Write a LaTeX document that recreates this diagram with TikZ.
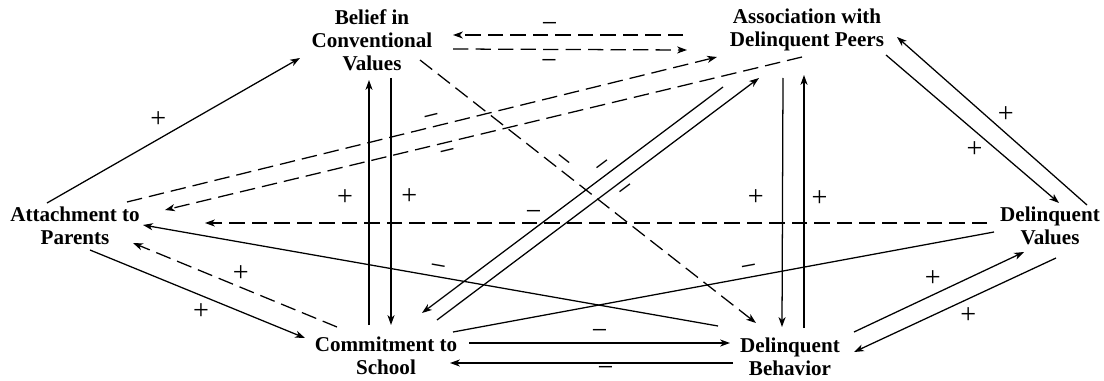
\documentclass[tikz,border=0pt]{standalone}
\usepackage{fontspec}
\setmainfont{Liberation Serif}
\usetikzlibrary{arrows.meta,calc}

\begin{document}
\begin{tikzpicture}[x=0.025cm, y=-0.025cm,
  var/.style={align=center, inner sep=0pt, font=\fontsize{15}{16.3}\selectfont\bfseries},
  arr/.style={-{Stealth[length=7pt,width=5pt,inset=2pt]}, line width=0.9pt},
  dsh/.style={arr, dash pattern=on 11pt off 5pt},
  sgn/.style={font=\fontsize{20}{20}\selectfont, inner sep=1pt}]
  \useasboundingbox (0,0) rectangle (1104,381);

  % variables
  \node[var] (Bel)  at (372,40)  {Belief in\\Conventional\\Values};
  \node[var] (Peer) at (807,30)  {Association with\\Delinquent Peers};
  \node[var] (Att)  at (75,226)  {Attachment to\\Parents};
  \node[var] (Val)  at (1050,226) {Delinquent\\Values};
  \node[var] (Com)  at (386,356) {Commitment to\\School};
  \node[var] (Beh)  at (790,357) {Delinquent\\Behavior};

  % upper part
  \draw[arr] ($(Att)+(-28,-23)$) -- node[sgn, pos=.49, above left=2pt] {+} ($(Bel)+(-72,18)$);
  \draw[dsh] ($(Peer)+(-124,5)$) -- node[sgn, pos=.58, above] {−} ($(Bel)+(81,-5)$);
  \draw[dsh] ($(Bel)+(81,9)$) -- node[sgn, pos=.41, below=6pt] {−} ($(Peer)+(-120,20)$);
  \draw[dsh] ($(Att)+(52,-24)$) -- node[sgn, pos=.52, above, sloped] {−} ($(Peer)+(-90,27)$);
  \draw[dsh] ($(Peer)+(-5,27)$) -- node[sgn, pos=.56, below=4pt, sloped] {−} ($(Att)+(90,-16)$);
  \draw[dsh] ($(Bel)+(48,20)$) -- node[sgn, pos=.41, above, sloped] {−} ($(Beh)+(-34,-34)$);
  \draw[arr] ($(Peer)+(-84,57)$) -- node[sgn, pos=.38, above, sloped] {−} ($(Com)+(36,-43)$);
  \draw[arr] ($(Com)+(51,-36)$) -- node[sgn, pos=.57, below=4pt, sloped] {−} ($(Peer)+(-48,48)$);

  % vertical pairs
  \draw[arr] ($(Com)+(-17,-31)$) -- node[sgn, pos=.52, left=10pt] {+} ($(Bel)+(-3,40)$);
  \draw[arr] ($(Bel)+(19,38)$) -- node[sgn, pos=.48, right=6pt] {+} ($(Com)+(5,-31)$);
  \draw[arr] ($(Peer)+(-24,48)$) -- node[sgn, pos=.48, left=12pt] {+} ($(Beh)+(-8,-30)$);
  \draw[arr] ($(Beh)+(14,-29)$) -- node[sgn, pos=.51, right=4pt] {+} ($(Peer)+(-3,45)$);

  % right part
  \draw[arr] ($(Peer)+(79,25)$) -- node[sgn, pos=.57, below left=0pt] {+} ($(Val)+(9,-23)$);
  \draw[arr] ($(Val)+(37,-21)$) -- node[sgn, pos=.48, above right=0pt] {+} ($(Peer)+(90,7)$);
  \draw[arr] ($(Beh)+(64,-25)$) -- node[sgn, pos=.53, above left=1pt] {+} ($(Val)+(-26,26)$);
  \draw[arr] ($(Val)+(6,32)$) -- node[sgn, pos=.49, below right=1pt] {+} ($(Beh)+(64,-5)$);

  % middle and lower part
  \draw[dsh] ($(Val)+(-63,-3)$) -- node[sgn, pos=.58, above] {−} ($(Att)+(130,-3)$);
  \draw[arr] ($(Beh)+(-72,-31)$) -- node[sgn, pos=.49, above, sloped] {−} ($(Att)+(68,-1)$);
  \draw[line width=0.9pt] ($(Val)+(-56,6)$) -- node[sgn, pos=.45, above, sloped] {−} ($(Com)+(67,-24)$);
  \draw[arr] ($(Com)+(83,-13)$) -- node[sgn, pos=.5, above=1pt] {−} ($(Beh)+(-60,-14)$);
  \draw[arr] ($(Beh)+(-57,6)$) -- node[sgn, pos=.45, below=1pt] {−} ($(Com)+(64,7)$);
  \draw[arr] ($(Att)+(15,24)$) -- node[sgn, pos=.57, below left=1pt] {+} ($(Com)+(-81,-18)$);
  \draw[dsh] ($(Com)+(-49,-29)$) -- node[sgn, pos=.52, above right=0pt] {+} ($(Att)+(58,17)$);
\end{tikzpicture}
\end{document}
